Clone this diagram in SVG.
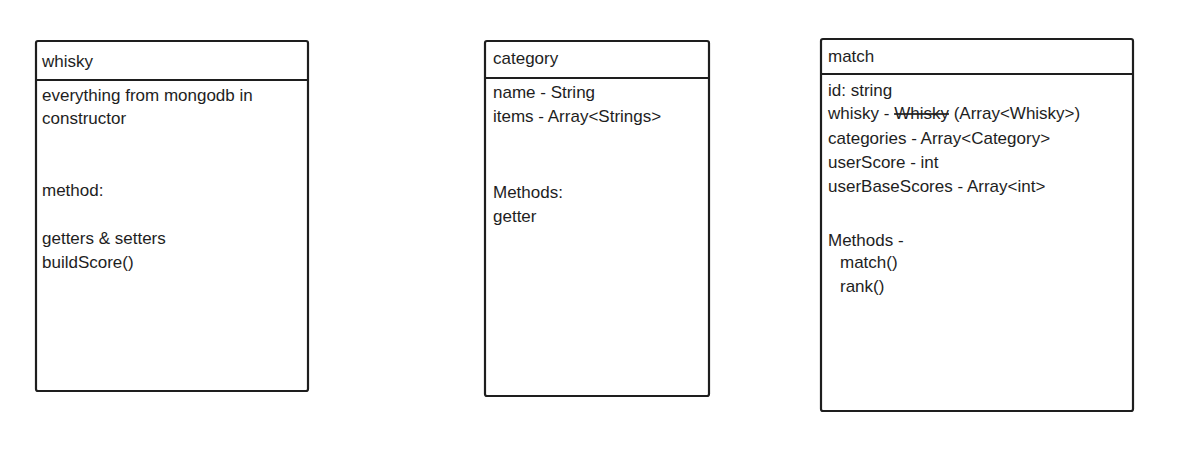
<svg xmlns="http://www.w3.org/2000/svg" width="1178" height="451" viewBox="0 0 1178 451">
<style>
.box{fill:#fff;stroke:#1e1e1e;stroke-width:2.2;stroke-linejoin:round}
.div{stroke:#1e1e1e;stroke-width:2.2}
text{font-family:"Liberation Sans",Arial,sans-serif;font-size:17px;fill:#1e1e1e}
.st{text-decoration:line-through}
</style>
<rect width="1178" height="451" fill="#fff"/>
<g id="whisky">
<rect class="box" x="36" y="41" width="272" height="350" rx="2"/>
<line class="div" x1="36" y1="80" x2="308" y2="80"/>
<text x="42" y="67">whisky</text>
<text x="42" y="101">everything from mongodb in</text>
<text x="42" y="124">constructor</text>
<text x="42" y="196">method:</text>
<text x="42" y="244">getters &amp; setters</text>
<text x="42" y="268">buildScore()</text>
</g>
<g id="category">
<rect class="box" x="485" y="41" width="224" height="355" rx="2"/>
<line class="div" x1="485" y1="78" x2="709" y2="78"/>
<text x="493" y="64">category</text>
<text x="493" y="98">name - String</text>
<text x="493" y="122">items - Array&lt;Strings&gt;</text>
<text x="493" y="198">Methods:</text>
<text x="493" y="222">getter</text>
</g>
<g id="match">
<rect class="box" x="821" y="39" width="312" height="372" rx="2"/>
<line class="div" x1="821" y1="74" x2="1133" y2="74"/>
<text x="828" y="62">match</text>
<text x="828" y="96">id: string</text>
<text x="828" y="119">whisky - <tspan class="st">Whisky</tspan> (Array&lt;Whisky&gt;)</text>
<text x="828" y="144">categories - Array&lt;Category&gt;</text>
<text x="828" y="168">userScore - int</text>
<text x="828" y="192">userBaseScores - Array&lt;int&gt;</text>
<text x="828" y="246">Methods -</text>
<text x="840" y="268">match()</text>
<text x="840" y="292">rank()</text>
</g>
<g id="connectors"/>
</svg>
